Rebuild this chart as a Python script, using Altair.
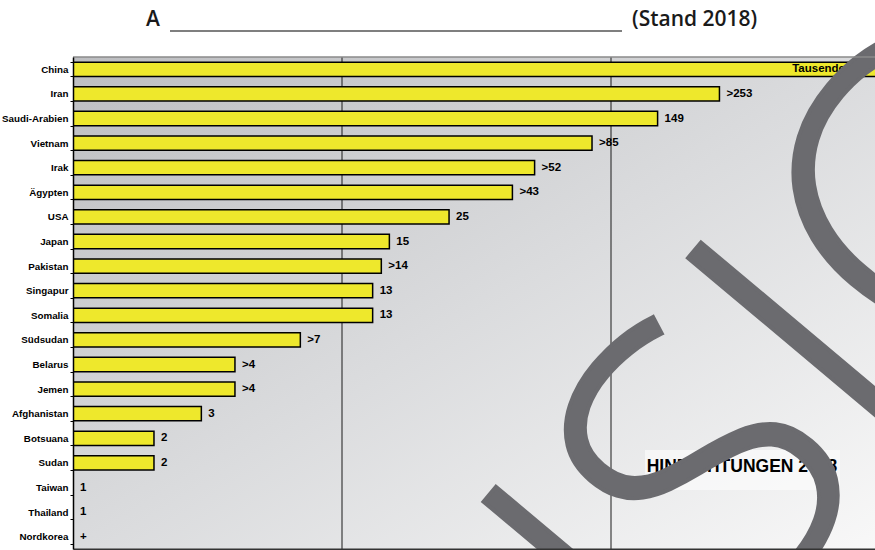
import altair as alt
import pandas as pd

countries = ["China", "Iran", "Saudi-Arabien", "Vietnam", "Irak", "Ägypten", "USA", "Japan",
             "Pakistan", "Singapur", "Somalia", "Südsudan", "Belarus", "Jemen", "Afghanistan",
             "Botsuana", "Sudan", "Taiwan", "Thailand", "Nordkorea"]
values = [1000, 253, 149, 85, 52, 43, 25, 15, 14, 13, 13, 7, 4, 4, 3, 2, 2, 1, 1, None]
labels = ["Tausende", ">253", "149", ">85", ">52", ">43", "25", "15", ">14", "13", "13", ">7",
          ">4", ">4", "3", "2", "2", "1", "1", "+"]
grid_values = [10, 100]
title_left = "A"
title_right = "(Stand 2018)"
overlay_text = "HINRICHTUNGEN 2018"
watermark = "ANSICHT"

df = pd.DataFrame({"country": countries, "value": values, "label": labels})
grid_df = pd.DataFrame({"g": grid_values})
one = alt.Data(values=[{}])

W, H = 802, 492
SANS = "Liberation Sans, Arial, sans-serif"

xscale = alt.Scale(type="log", domain=[1, 958])
yscale = alt.Scale(paddingInner=0.42, paddingOuter=0.21)

y_enc = alt.Y("country:N", sort=countries, scale=yscale,
              axis=alt.Axis(title=None, labelFont=SANS, labelFontWeight="bold",
                            labelFontSize=9.8, labelColor="black", tickBand="extent",
                            tickSize=3, tickColor="black", domainColor="black",
                            domainWidth=1.5, labelPadding=2, zindex=1))

grad = alt.LinearGradient(
    gradient="linear",
    stops=[alt.GradientStop(color="#bdbec1", offset=0),
           alt.GradientStop(color="#dadbdd", offset=0.5),
           alt.GradientStop(color="#f8f8f8", offset=1)],
    x1=0, y1=0, x2=1, y2=1)

bg = alt.Chart(one).mark_rect(color=grad).encode(
    x=alt.value(0), x2=alt.value(W), y=alt.value(0), y2=alt.value(H))

top_line = alt.Chart(one).mark_rule(color="#8a8a8a", strokeWidth=1.5).encode(
    x=alt.value(0), x2=alt.value(W), y=alt.value(0))

grid = alt.Chart(grid_df).mark_rule(color="#1a1a1a", strokeWidth=1).encode(
    x=alt.X("g:Q", scale=xscale))

bars = alt.Chart(df).transform_filter("datum.value != null").mark_bar(
    color="#eee82c", stroke="black", strokeWidth=1.5, clip=True
).encode(
    x=alt.X("value:Q", scale=xscale,
            axis=alt.Axis(labels=False, ticks=False, grid=False, title=None,
                          domainColor="#333333", domainWidth=2, zindex=1)),
    x2=alt.datum(1),
    y=y_enc,
)

vlabels = alt.Chart(df).transform_filter("datum.country != 'China'").transform_calculate(
    lx="datum.value == null ? 1 : datum.value"
).mark_text(align="left", baseline="middle", dx=7, font=SANS, fontWeight="bold",
            fontSize=11.5, color="black").encode(
    x=alt.X("lx:Q", scale=xscale), y=alt.Y("country:N", sort=countries), text="label:N")

china_label = alt.Chart(df).transform_filter("datum.country == 'China'").mark_text(
    align="right", baseline="middle", dx=-35, font=SANS, fontWeight="bold",
    fontSize=11.5, color="black").encode(
    x=alt.X("value:Q", scale=xscale), y=alt.Y("country:N", sort=countries), text="label:N")

ov_box = alt.Chart(one).mark_rect(color="white", opacity=0.55).encode(
    x=alt.value(572), x2=alt.value(767), y=alt.value(393), y2=alt.value(433))
ov_text = alt.Chart(one).mark_text(
    text=overlay_text, font=SANS, fontWeight="bold", fontSize=17.5, color="black",
    align="center", baseline="middle").encode(x=alt.value(669), y=alt.value(410))

wm = alt.Chart(one).mark_text(
    text=watermark, font="Open Sans", fontWeight=300, fontSize=400, color="#6b6b6f",
    stroke="#6b6b6f", strokeWidth=4,
    align="center", baseline="middle", angle=310).encode(x=alt.value(748), y=alt.value(300))

t_left = alt.Chart(one).mark_text(
    text=title_left, font="Open Sans", fontWeight=600, fontSize=21, color="#1a1a1a",
    align="center", baseline="middle").encode(x=alt.value(80), y=alt.value(-37))
t_right = alt.Chart(one).mark_text(
    text=title_right, font="Open Sans", fontWeight=600, fontSize=21, color="#1a1a1a",
    align="left", baseline="middle").encode(x=alt.value(559), y=alt.value(-37))
t_line = alt.Chart(one).mark_rule(color="#555555", strokeWidth=1.5).encode(
    x=alt.value(97), x2=alt.value(549), y=alt.value(-26))

chart = alt.layer(
    bg, grid, bars, vlabels, china_label, ov_box, ov_text, wm, top_line,
    t_left, t_right, t_line
).properties(
    width=W, height=H,
    autosize=alt.AutoSizeParams(type="none"),
    padding={"left": 73, "top": 57, "right": 0, "bottom": 1},
).configure_view(stroke=None)

chart.save("out.html", embed_options={"renderer": "svg", "actions": False})
